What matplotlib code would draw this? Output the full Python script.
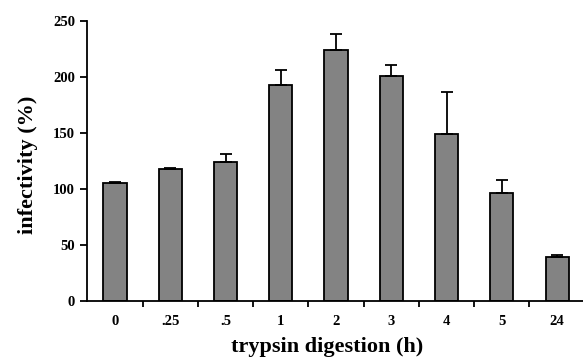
import numpy as np
import matplotlib
matplotlib.use("Agg")
from matplotlib import pyplot as plt

categories = ["0", ".25", ".5", "1", "2", "3", "4", "5", "24"]
infectivity = [105, 118, 124, 193, 224, 201, 149, 96, 39]
err_upper = [1, 1, 7.5, 13, 14.5, 10, 37.5, 11.5, 2]

plt.rcParams["font.family"] = ["Liberation Serif", "DejaVu Serif"]
plt.rcParams["font.weight"] = "bold"

fig = plt.figure(figsize=(5.83, 3.59), dpi=100)
ax = fig.add_axes([0.150, 0.162, 0.853, 0.780])

x = np.arange(len(categories))
ax.bar(x, infectivity, width=0.42, color="#838383", edgecolor="black", linewidth=1.3,
       yerr=[np.zeros(len(x)), err_upper], capsize=4,
       error_kw={"elinewidth": 1.3, "capthick": 1.3, "ecolor": "black"})

ax.set_xlim(-0.5, len(categories) - 0.5)
ax.set_ylim(0, 250)
ax.set_yticks([0, 50, 100, 150, 200, 250])
ax.set_xticks(x)
ax.set_xticklabels(categories, fontsize=10.5, fontweight="bold")
ax.set_xticks(x[:-1] + 0.5, minor=True)
ax.tick_params(axis="x", which="major", length=0, pad=10)
ax.tick_params(axis="x", which="minor", length=4, width=1.3, direction="out")
ax.tick_params(axis="y", length=5, width=1.3, direction="out", labelsize=10.5, pad=4)
for lab in ax.get_yticklabels():
    lab.set_fontweight("bold")

for side in ["top", "right"]:
    ax.spines[side].set_visible(False)
ax.spines["left"].set_linewidth(1.3)
ax.spines["bottom"].set_linewidth(1.3)

ax.set_xlabel("trypsin digestion (h)", fontsize=16, fontweight="bold")
ax.set_ylabel("infectivity (%)", fontsize=16, fontweight="bold")
ax.xaxis.set_label_coords(0.482, -0.128)
ax.yaxis.set_label_coords(-0.100, 0.485)

fig.savefig("out.png", dpi=100)
